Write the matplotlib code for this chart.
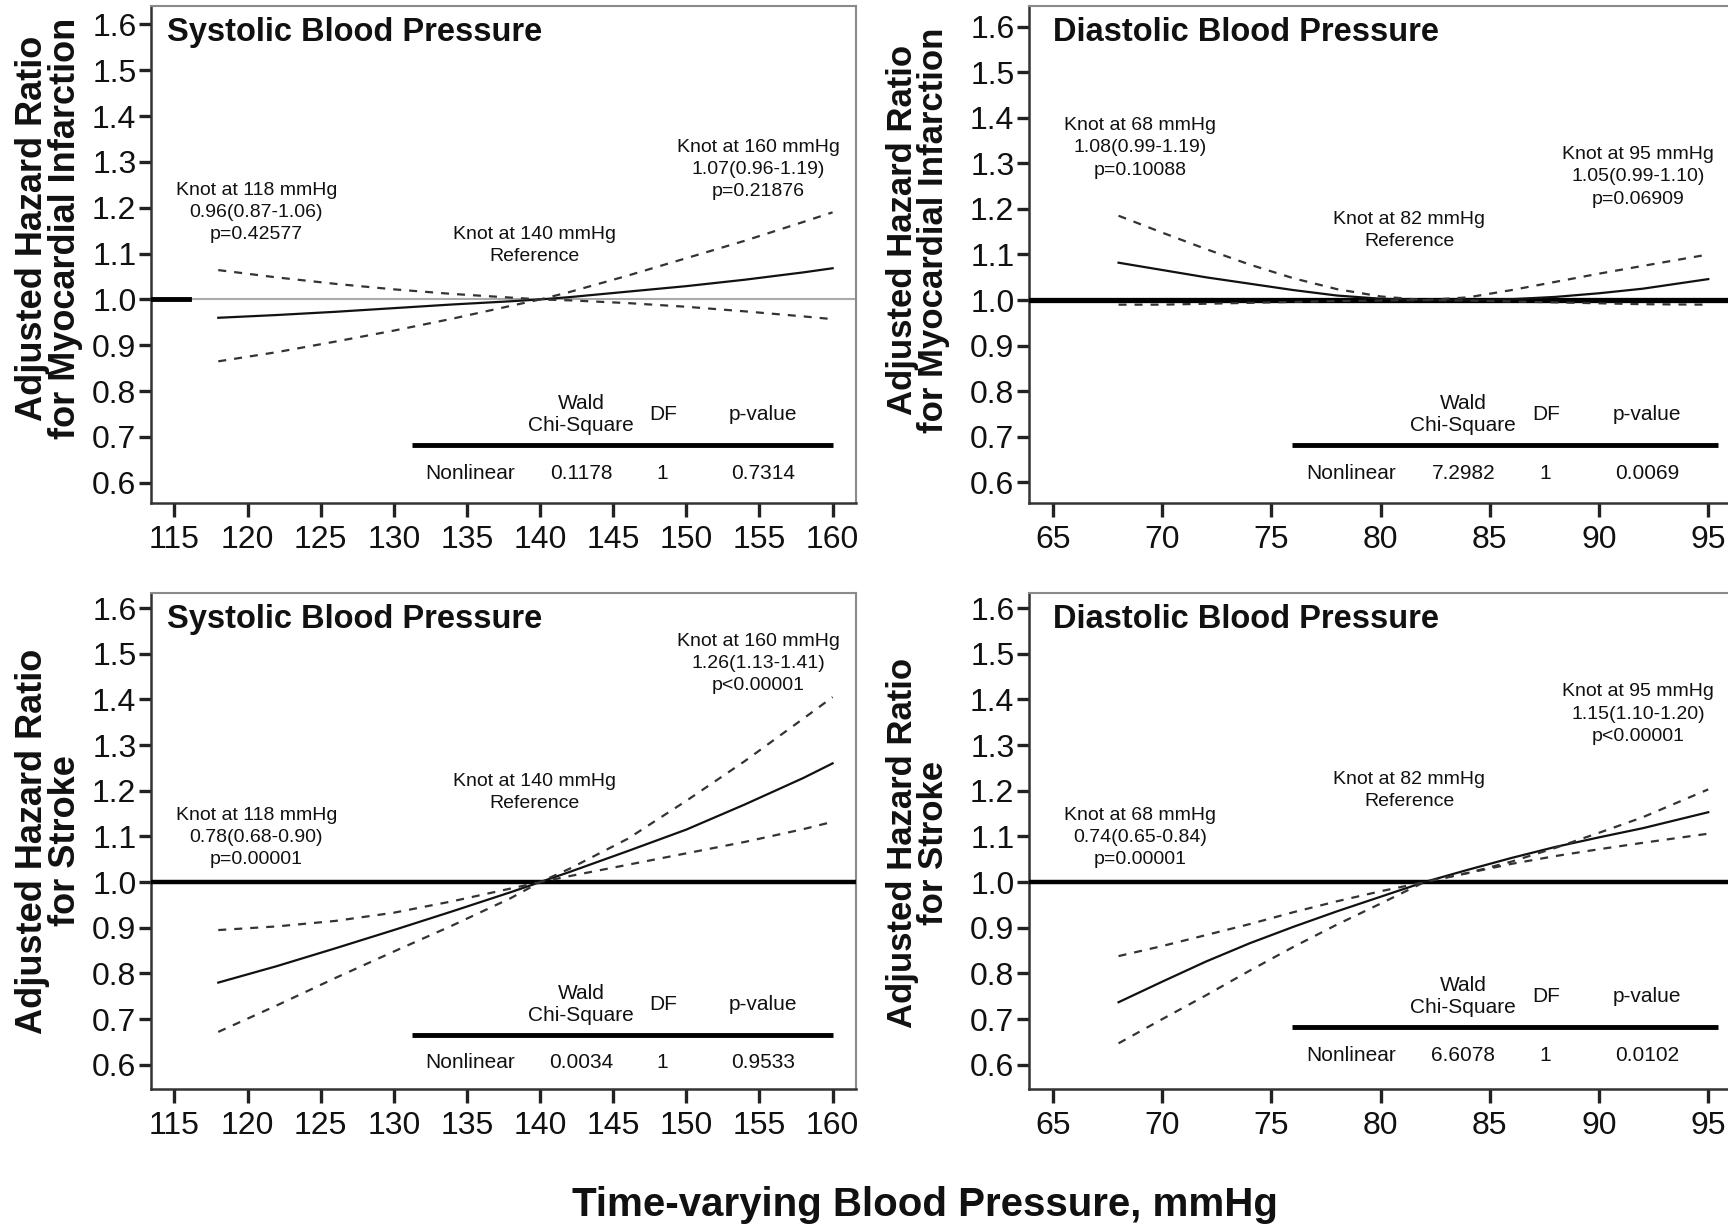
import numpy as np
import matplotlib
matplotlib.use("Agg")
import matplotlib.pyplot as plt
from matplotlib.ticker import FormatStrFormatter

plt.rcParams["font.family"] = ["Liberation Sans", "DejaVu Sans"]

# blood pressure grids (mmHg)
sbp = [118, 122, 126, 130, 134, 138, 140, 142, 146, 150, 154, 158, 160]
dbp = [68, 70, 72, 74, 76, 78, 80, 82, 84, 86, 88, 90, 92, 95]

# adjusted hazard ratios with 95% CI, myocardial infarction
sbp_mi_hr = [0.960, 0.966, 0.973, 0.981, 0.989, 0.996, 1.0, 1.005, 1.017, 1.029, 1.043, 1.059, 1.068]
sbp_mi_hi = [1.064, 1.048, 1.034, 1.022, 1.012, 1.004, 1.0, 1.016, 1.052, 1.090, 1.128, 1.169, 1.190]
sbp_mi_lo = [0.865, 0.885, 0.908, 0.932, 0.958, 0.986, 1.0, 0.998, 0.992, 0.984, 0.974, 0.963, 0.957]
dbp_mi_hr = [1.082, 1.066, 1.050, 1.036, 1.022, 1.010, 1.003, 1.0, 1.0, 1.002, 1.007, 1.015, 1.025, 1.046]
dbp_mi_hi = [1.185, 1.148, 1.112, 1.078, 1.048, 1.024, 1.008, 1.0, 1.006, 1.022, 1.040, 1.058, 1.075, 1.100]
dbp_mi_lo = [0.990, 0.990, 0.992, 0.994, 0.996, 0.998, 0.999, 1.0, 0.999, 0.997, 0.995, 0.993, 0.991, 0.990]

# adjusted hazard ratios with 95% CI, stroke
sbp_st_hr = [0.780, 0.816, 0.855, 0.895, 0.936, 0.978, 1.0, 1.022, 1.068, 1.115, 1.170, 1.228, 1.260]
sbp_st_hi = [0.895, 0.903, 0.915, 0.933, 0.958, 0.986, 1.0, 1.029, 1.095, 1.178, 1.265, 1.358, 1.405]
sbp_st_lo = [0.672, 0.730, 0.790, 0.848, 0.905, 0.965, 1.0, 1.013, 1.038, 1.063, 1.088, 1.116, 1.132]
dbp_st_hr = [0.737, 0.782, 0.826, 0.866, 0.902, 0.936, 0.968, 1.0, 1.027, 1.053, 1.077, 1.098, 1.118, 1.153]
dbp_st_hi = [0.838, 0.860, 0.884, 0.908, 0.934, 0.958, 0.980, 1.0, 1.020, 1.045, 1.075, 1.108, 1.142, 1.203]
dbp_st_lo = [0.647, 0.700, 0.752, 0.806, 0.858, 0.907, 0.953, 1.0, 1.020, 1.040, 1.057, 1.072, 1.086, 1.106]

sbp_ticks = [115, 120, 125, 130, 135, 140, 145, 150, 155, 160]
dbp_ticks = [65, 70, 75, 80, 85, 90, 95]
hr_ticks = [0.6, 0.7, 0.8, 0.9, 1.0, 1.1, 1.2, 1.3, 1.4, 1.5, 1.6]

sbp_knots = [
    ("Knot at 118 mmHg\n0.96(0.87-1.06)\np=0.42577", "Knot at 140 mmHg\nReference",
     "Knot at 160 mmHg\n1.07(0.96-1.19)\np=0.21876"),
    ("Knot at 118 mmHg\n0.78(0.68-0.90)\np=0.00001", "Knot at 140 mmHg\nReference",
     "Knot at 160 mmHg\n1.26(1.13-1.41)\np<0.00001"),
]
dbp_knots = [
    ("Knot at 68 mmHg\n1.08(0.99-1.19)\np=0.10088", "Knot at 82 mmHg\nReference",
     "Knot at 95 mmHg\n1.05(0.99-1.10)\np=0.06909"),
    ("Knot at 68 mmHg\n0.74(0.65-0.84)\np=0.00001", "Knot at 82 mmHg\nReference",
     "Knot at 95 mmHg\n1.15(1.10-1.20)\np<0.00001"),
]
wald_chi2 = [["0.1178", "7.2982"], ["0.0034", "6.6078"]]
wald_p = [["0.7314", "0.0069"], ["0.9533", "0.0102"]]

ylabels = ["Adjusted Hazard Ratio\nfor Myocardial Infarction", "Adjusted Hazard Ratio\nfor Stroke"]

W, H = 1728, 1229
fig = plt.figure(figsize=(W / 100, H / 100), dpi=100)


def px_axes(left, top, right, bottom):
    return fig.add_axes([left / W, 1 - bottom / H, (right - left) / W, (bottom - top) / H])


def style_axes(ax, xticks):
    ax.set_xticks(xticks)
    ax.set_yticks(hr_ticks)
    ax.yaxis.set_major_formatter(FormatStrFormatter("%.1f"))
    ax.tick_params(axis="x", length=10, width=2.4, pad=6, labelsize=23, direction="out",
                   color="#222222", labelcolor="#111111")
    ax.tick_params(axis="y", length=9, width=2.4, pad=1.5, labelsize=23, direction="out",
                   color="#222222", labelcolor="#111111")
    for side in ("left", "bottom"):
        ax.spines[side].set_color("#333333")
        ax.spines[side].set_linewidth(1.8)
    for side in ("top", "right"):
        ax.spines[side].set_color("#8a8a8a")
        ax.spines[side].set_linewidth(1.5)


def draw_curves(ax, x, hr, lo, hi):
    ax.plot(x, hr, color="#111111", lw=1.6, zorder=4)
    for band in (lo, hi):
        ax.plot(x, band, color="#333333", lw=1.6, ls=(0, (3.6, 3.6)), zorder=4)


def stats_table(ax, chi2, pval, line_y):
    kw = dict(transform=ax.transAxes, ha="center", va="center", fontsize=15, color="#111111")
    ax.plot([0.37, 0.968], [line_y, line_y], transform=ax.transAxes,
            color="black", lw=3.5, solid_capstyle="butt", zorder=5)
    ax.text(0.61, line_y + 0.084, "Wald", **kw)
    ax.text(0.61, line_y + 0.040, "Chi-Square", **kw)
    ax.text(0.727, line_y + 0.062, "DF", **kw)
    ax.text(0.868, line_y + 0.062, "p-value", **kw)
    ax.text(0.453, line_y - 0.056, "Nonlinear", **kw)
    ax.text(0.61, line_y - 0.056, chi2, **kw)
    ax.text(0.725, line_y - 0.056, "1", **kw)
    ax.text(0.868, line_y - 0.056, pval, **kw)


def knot_labels(ax, labels, xs, ys):
    for txt, x, y in zip(labels, xs, ys):
        ax.text(x, y, txt, ha="center", va="center", fontsize=14,
                linespacing=1.4, color="#111111", zorder=6)


# row 0: myocardial infarction, row 1: stroke
rows = [
    dict(top=6, bottom=503, ylim_l=(0.556, 1.640), ylim_r=(0.555, 1.645),
         sbp=(sbp_mi_hr, sbp_mi_lo, sbp_mi_hi), dbp=(dbp_mi_hr, dbp_mi_lo, dbp_mi_hi),
         sbp_y=(1.19, 1.118, 1.284), dbp_y=(1.334, 1.153, 1.27), line_y=(0.116, 0.116), label_y=228),
    dict(top=593, bottom=1089, ylim_l=(0.547, 1.633), ylim_r=(0.547, 1.633),
         sbp=(sbp_st_hr, sbp_st_lo, sbp_st_hi), dbp=(dbp_st_hr, dbp_st_lo, dbp_st_hi),
         sbp_y=(1.098, 1.197, 1.479), dbp_y=(1.098, 1.201, 1.368), line_y=(0.109, 0.124), label_y=841),
]

for r, row in enumerate(rows):
    # systolic panel
    ax = px_axes(151, row["top"], 856, row["bottom"])
    ax.set_xlim(113.4, 161.6)
    ax.set_ylim(*row["ylim_l"])
    style_axes(ax, sbp_ticks)
    if r == 0:
        ax.axhline(1.0, color="#aaaaaa", lw=1.5, zorder=2)
        ax.plot([113.4, 116], [1.0, 1.0], color="black", lw=3.5, zorder=3)
    else:
        ax.axhline(1.0, color="black", lw=3.2, zorder=3)
    draw_curves(ax, sbp, *row["sbp"])
    knot_labels(ax, sbp_knots[r], (120.6, 139.6, 154.9), row["sbp_y"])
    stats_table(ax, wald_chi2[r][0], wald_p[r][0], row["line_y"][0])
    ax.text(0.023, 0.929, "Systolic Blood Pressure", transform=ax.transAxes,
            ha="left", va="baseline", fontsize=23.5, fontweight="bold", color="#111111")
    fig.text(49 / W, 1 - row["label_y"] / H, ylabels[r], rotation=90, ha="center", va="center",
             fontsize=26, fontweight="bold", linespacing=0.92, color="#111111")

    # diastolic panel
    ax = px_axes(1029, row["top"], 1741, row["bottom"])
    ax.set_xlim(63.9, 96.5)
    ax.set_ylim(*row["ylim_r"])
    style_axes(ax, dbp_ticks)
    ax.axhline(1.0, color="black", lw=3.8 if r == 0 else 3.2, zorder=3)
    draw_curves(ax, dbp, *row["dbp"])
    knot_labels(ax, dbp_knots[r], (69.0, 81.3, 91.8), row["dbp_y"])
    stats_table(ax, wald_chi2[r][1], wald_p[r][1], row["line_y"][1])
    ax.text(0.034, 0.929, "Diastolic Blood Pressure", transform=ax.transAxes,
            ha="left", va="baseline", fontsize=23.5, fontweight="bold", color="#111111")
    fig.text(918 / W, 1 - (row["label_y"] + 2) / H, ylabels[r], rotation=90, ha="center", va="center",
             fontsize=25, fontweight="bold", linespacing=0.9, color="#111111")

fig.text(925 / W, 1 - 1216 / H, "Time-varying Blood Pressure, mmHg", ha="center", va="baseline",
         fontsize=29, fontweight="bold", color="#111111")

fig.savefig("out.png", dpi=100)
